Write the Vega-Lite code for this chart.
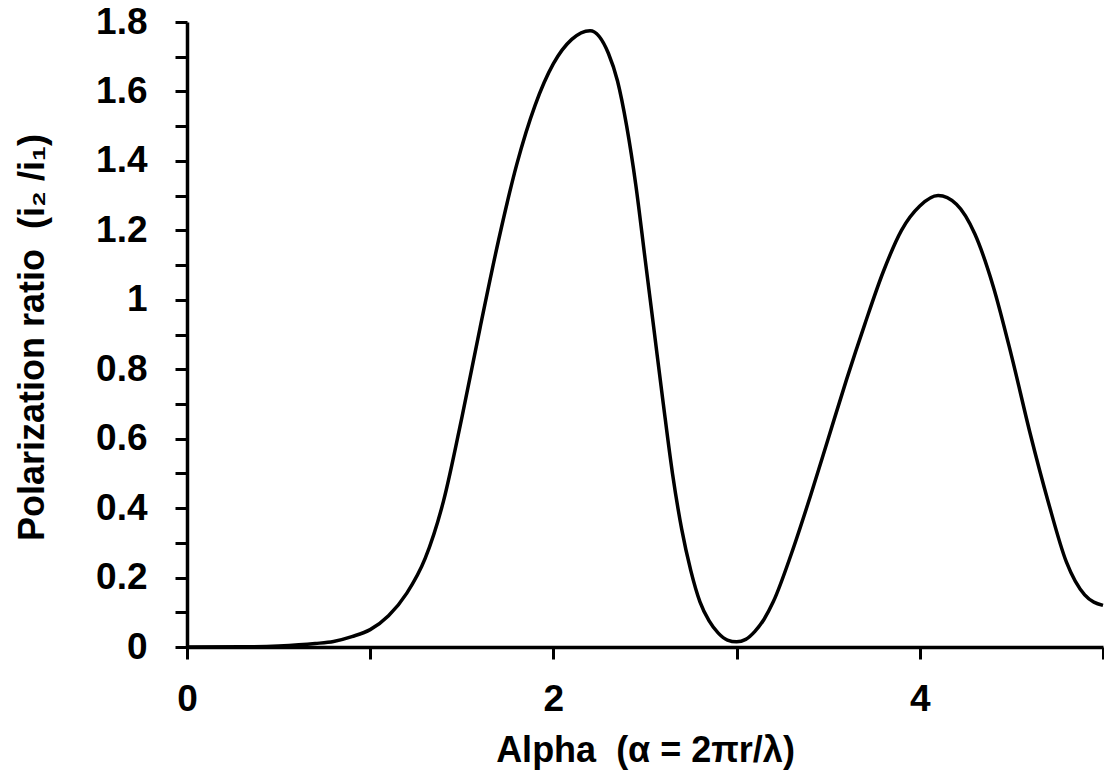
{
  "$schema": "https://vega.github.io/schema/vega-lite/v6.json",
  "width": 916,
  "height": 625,
  "autosize": {"type": "none"},
  "padding": {"left": 187, "top": 22, "right": 1, "bottom": 131},
  "background": "white",
  "config": {
    "view": {"stroke": null},
    "font": "Liberation Sans",
    "axis": {
      "grid": false,
      "domain": true,
      "ticks": true,
      "domainColor": "black",
      "domainWidth": 3.5,
      "tickColor": "black",
      "tickWidth": 3,
      "tickSize": 12,
      "labelColor": "black",
      "labelFont": "Liberation Sans",
      "labelFontWeight": "bold",
      "labelFontSize": 37,
      "labelFlush": false,
      "labelOverlap": false,
      "labelBound": false,
      "titleColor": "black",
      "titleFont": "Liberation Sans",
      "titleFontWeight": "bold",
      "titleFontSize": 36
    }
  },
  "resolve": {"axis": {"y": "independent"}},
  "layer": [
    {
      "data": {
        "values": [
          {"alpha": 0.0, "ratio": 0.0},
          {"alpha": 0.3, "ratio": 0.0005},
          {"alpha": 0.5, "ratio": 0.003},
          {"alpha": 0.7, "ratio": 0.01},
          {"alpha": 0.8, "ratio": 0.016},
          {"alpha": 0.9, "ratio": 0.03},
          {"alpha": 1.0, "ratio": 0.05},
          {"alpha": 1.1, "ratio": 0.09},
          {"alpha": 1.2, "ratio": 0.155},
          {"alpha": 1.3, "ratio": 0.255},
          {"alpha": 1.4, "ratio": 0.42},
          {"alpha": 1.5, "ratio": 0.66},
          {"alpha": 1.6, "ratio": 0.92},
          {"alpha": 1.7, "ratio": 1.17},
          {"alpha": 1.8, "ratio": 1.39},
          {"alpha": 1.9, "ratio": 1.56},
          {"alpha": 2.0, "ratio": 1.68},
          {"alpha": 2.1, "ratio": 1.75},
          {"alpha": 2.2, "ratio": 1.775},
          {"alpha": 2.3, "ratio": 1.71},
          {"alpha": 2.35, "ratio": 1.63},
          {"alpha": 2.4, "ratio": 1.5},
          {"alpha": 2.45, "ratio": 1.33},
          {"alpha": 2.5, "ratio": 1.12},
          {"alpha": 2.55, "ratio": 0.91},
          {"alpha": 2.6, "ratio": 0.7},
          {"alpha": 2.65, "ratio": 0.5},
          {"alpha": 2.7, "ratio": 0.34},
          {"alpha": 2.75, "ratio": 0.22},
          {"alpha": 2.8, "ratio": 0.13},
          {"alpha": 2.85, "ratio": 0.075},
          {"alpha": 2.9, "ratio": 0.04},
          {"alpha": 2.95, "ratio": 0.02},
          {"alpha": 3.0, "ratio": 0.015},
          {"alpha": 3.05, "ratio": 0.022},
          {"alpha": 3.1, "ratio": 0.045},
          {"alpha": 3.15, "ratio": 0.08},
          {"alpha": 3.2, "ratio": 0.13},
          {"alpha": 3.3, "ratio": 0.27},
          {"alpha": 3.4, "ratio": 0.43},
          {"alpha": 3.5, "ratio": 0.6},
          {"alpha": 3.6, "ratio": 0.77},
          {"alpha": 3.7, "ratio": 0.93},
          {"alpha": 3.8, "ratio": 1.08},
          {"alpha": 3.9, "ratio": 1.2},
          {"alpha": 4.0, "ratio": 1.27},
          {"alpha": 4.1, "ratio": 1.3},
          {"alpha": 4.2, "ratio": 1.275},
          {"alpha": 4.3, "ratio": 1.19},
          {"alpha": 4.4, "ratio": 1.04},
          {"alpha": 4.5, "ratio": 0.84},
          {"alpha": 4.6, "ratio": 0.62},
          {"alpha": 4.7, "ratio": 0.42},
          {"alpha": 4.8, "ratio": 0.245},
          {"alpha": 4.9, "ratio": 0.15},
          {"alpha": 5.0, "ratio": 0.12}
        ]
      },
      "mark": {"type": "line", "color": "black", "strokeWidth": 3.5, "interpolate": "monotone"},
      "encoding": {
        "x": {
          "field": "alpha",
          "type": "quantitative",
          "scale": {"domain": [0, 5], "nice": false, "zero": false},
          "axis": {
            "title": "Alpha\u00a0 (α = 2πr/λ)",
            "values": [0, 1, 2, 3, 4, 5],
            "labelExpr": "datum.value % 2 === 0 ? toString(datum.value) : ''",
            "labelBaseline": "alphabetic",
            "labelPadding": 51,
            "titleBaseline": "alphabetic",
            "titleY": 114
          }
        },
        "y": {
          "field": "ratio",
          "type": "quantitative",
          "scale": {"domain": [0, 1.8], "nice": false, "zero": false},
          "axis": {
            "title": "Polarization ratio\u00a0 (i₂ /i₁)",
            "values": [0, 0.1, 0.2, 0.3, 0.4, 0.5, 0.6, 0.7, 0.8, 0.9, 1, 1.1, 1.2, 1.3, 1.4, 1.5, 1.6, 1.7, 1.8],
            "labelExpr": "round(datum.value * 10) % 2 === 0 ? toString(round(datum.value * 10) / 10) : ''",
            "labelBaseline": "middle",
            "labelPadding": 28,
            "domain": true,
            "ticks": true,
            "tickSize": 12,
            "titleAngle": -90,
            "titleAlign": "center",
            "titleBaseline": "alphabetic",
            "titleX": -144,
            "titleY": 315
          }
        }
      }
    },
    {
      "mark": {"type": "rule", "color": "black", "strokeWidth": 3.5},
      "encoding": {
        "y": {"datum": 1.8, "type": "quantitative", "axis": null}
      }
    }
  ]
}
